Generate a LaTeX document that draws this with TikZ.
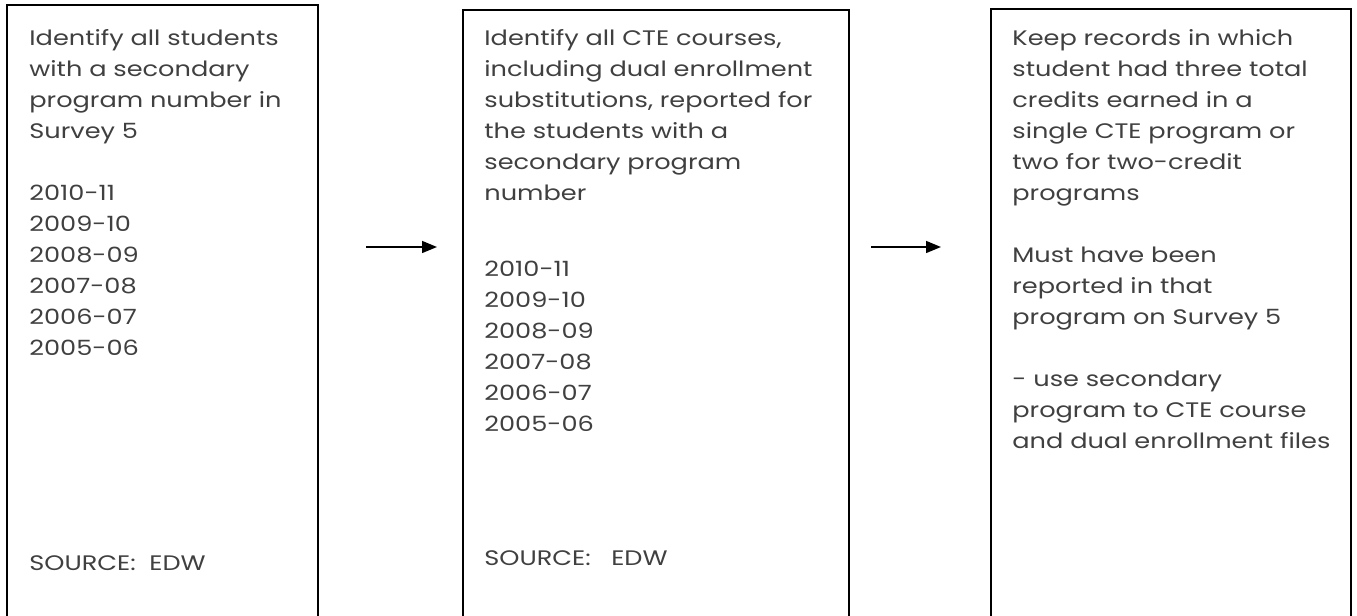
\documentclass[tikz,border=0pt]{standalone}
\usepackage{fontspec}
\setmainfont{Poppins}[FakeStretch=1.22]
\usetikzlibrary{arrows.meta, positioning}
\definecolor{textgray}{HTML}{404040}

\begin{document}
\begin{tikzpicture}
    [
        x=1pt, y=1pt,
        stagebox/.style={rectangle, draw=black, line width=1pt, minimum height=320pt, inner sep=0pt},
        steptext/.style={anchor=north west, align=left, inner sep=0pt, text=textgray,
            font=\fontsize{10.5}{15.5}\selectfont},
        flow/.style={-{Triangle[length=7.5pt, width=6pt]}, line width=0.75pt},
    ]
    \clip (0,0) rectangle (678.5,308);
    \node (survey) at (81.25,145.5) [stagebox, minimum width=155.5pt] {};
    \node (courses) at (328,143) [stagebox, minimum width=193pt] {};
    \node (records) at (585.5,143.5) [stagebox, minimum width=180pt] {};
    \coordinate (arrowrow) at (0,184.5);

    % box 1
    \node (survey title) at (14.5,293.5) [steptext] {Identify all students\\with a secondary\\program number in\\Survey 5\\ \\2010-11\\2009-10\\2008-09\\2007-08\\2006-07\\2005-06};
    \node (survey source) at (14.5,30.5) [steptext] {SOURCE:\ \ EDW};

    % box 2
    \node (courses title) at (242,293.5) [steptext] {Identify all CTE courses,\\including dual enrollment\\substitutions, reported for\\the students with a\\secondary program\\number};
    \node (courses years) at (242,177.5) [steptext] {2010-11\\2009-10\\2008-09\\2007-08\\2006-07\\2005-06};
    \node (courses source) at (242,33) [steptext] {SOURCE:\ \ \ EDW};

    % box 3
    \node (records title) at (506,293.5) [steptext] {Keep records in which\\student had three total\\credits earned in a\\single CTE program or\\two for two-credit\\programs\\ \\Must have been\\reported in that\\program on Survey 5\\ \\- use secondary\\program to CTE course\\and dual enrollment files};

    \draw[flow, shorten <=23.5pt, shorten >=12.5pt] (survey.east |- arrowrow) -- (courses.west |- arrowrow);
    \draw[flow, shorten <=10.5pt, shorten >=24.5pt] (courses.east |- arrowrow) -- (records.west |- arrowrow);
\end{tikzpicture}
\end{document}
